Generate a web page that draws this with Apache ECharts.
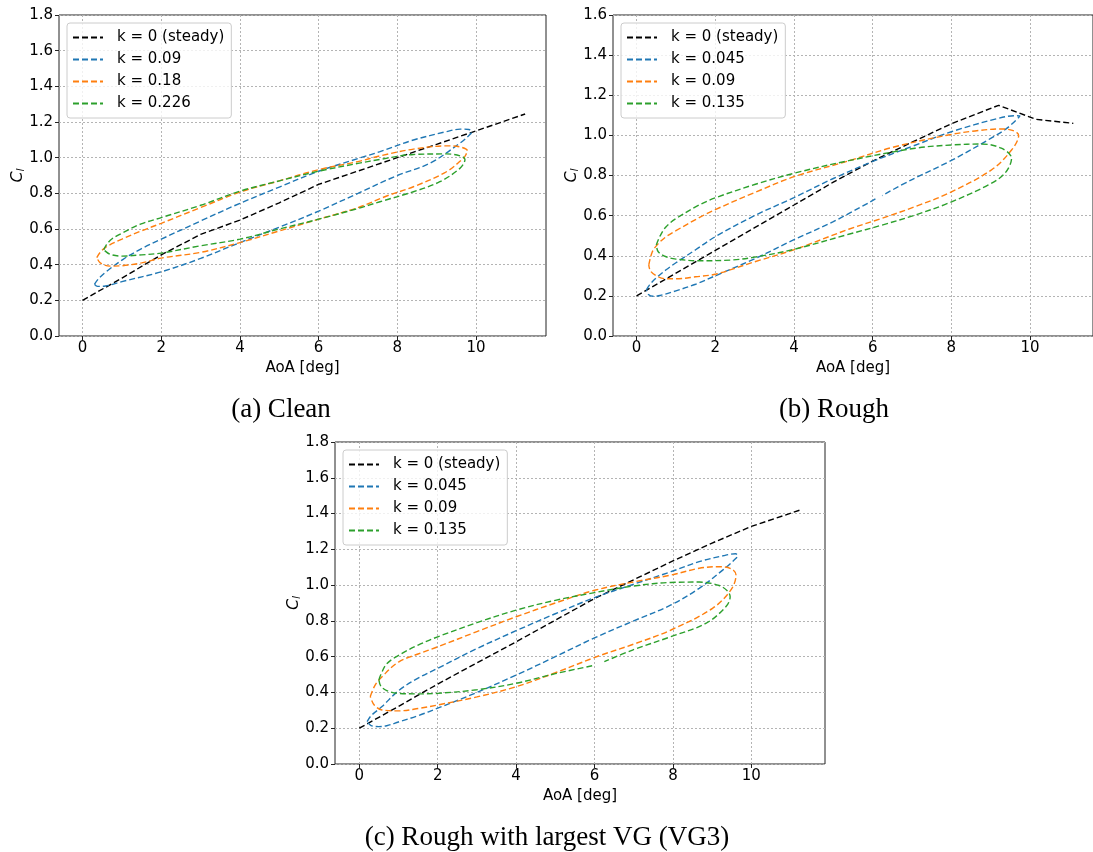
<!DOCTYPE html>
<html>
<head>
<meta charset="utf-8">
<title>Cl hysteresis</title>
<script src="https://cdn.jsdelivr.net/npm/echarts@6.0.0/dist/echarts.min.js"></script>
<style>
html,body{margin:0;padding:0;background:#fff;}
#chart{width:1093px;height:852px;}
</style>
</head>
<body>
<div id="chart"></div>
<script>
// values, points are [AoA (deg), Cl]
var xTicks = [0, 2, 4, 6, 8, 10];
var cleanNames = ['k = 0 (steady)', 'k = 0.09', 'k = 0.18', 'k = 0.226'];
var roughNames = ['k = 0 (steady)', 'k = 0.045', 'k = 0.09', 'k = 0.135'];
var vgNames = ['k = 0 (steady)', 'k = 0.045', 'k = 0.09', 'k = 0.135'];
var captions = ['(a) Clean', '(b) Rough', '(c) Rough with largest VG (VG3)'];

// (a) clean
var cleanSteady = [[0,0.2],[1,0.325],[2,0.455],[3,0.57],[4,0.65],[5,0.747],[6,0.85],[7,0.925],[8,1.0],[9,1.075],[10,1.15],[11.25,1.245]];
var cleanK009 = [[0.3,0.29],[0.4,0.32],[0.58,0.357],[1.03,0.43],[1.5,0.49],[2,0.543],[3,0.645],[4,0.744],[5,0.835],[6,0.924],[7,0.995],[7.56,1.034],[8.41,1.099],[9.25,1.146],[9.6,1.16],[9.82,1.158],[9.89,1.145],[9.8,1.12],[9.59,1.081],[8.83,0.969],[8,0.9],[7,0.8],[6,0.7],[5,0.61],[4,0.524],[3,0.435],[2,0.36],[1,0.305],[0.58,0.28],[0.38,0.278],[0.3,0.29]];
var cleanK018 = [[0.36,0.44],[0.45,0.47],[0.6,0.5],[1,0.543],[1.5,0.59],[2,0.632],[3,0.72],[4,0.807],[5,0.87],[6,0.933],[7,0.978],[7.56,1.01],[8.41,1.048],[9.25,1.066],[9.6,1.06],[9.78,1.039],[9.74,1.015],[9.68,0.997],[9.25,0.921],[8.41,0.837],[7.73,0.785],[7,0.72],[6,0.655],[5,0.589],[4,0.524],[3,0.469],[2,0.437],[1.5,0.41],[1,0.394],[0.7,0.392],[0.45,0.41],[0.36,0.44]];
var cleanK0226 = [[0.54,0.483],[0.6,0.51],[0.75,0.545],[1.03,0.58],[1.47,0.627],[2,0.664],[3,0.733],[4,0.812],[5,0.87],[6,0.924],[7,0.968],[7.56,0.99],[8.41,1.018],[9.25,1.021],[9.6,1.01],[9.72,0.99],[9.59,0.94],[9.08,0.865],[8.41,0.809],[7.56,0.753],[7,0.715],[6,0.655],[5,0.6],[4,0.543],[3,0.506],[2,0.465],[1.5,0.455],[1,0.448],[0.7,0.458],[0.54,0.483]];

// (b) rough
var roughSteady = [[0,0.2],[1,0.313],[2,0.427],[3,0.54],[4,0.653],[5,0.767],[6,0.872],[7,0.966],[8,1.058],[9.2,1.15],[10.15,1.08],[11.1,1.06]];
var roughK0045 = [[0.25,0.23],[0.33,0.255],[0.5,0.29],[0.75,0.33],[1,0.365],[1.5,0.43],[2,0.495],[3,0.6],[4,0.69],[5,0.785],[6,0.87],[7,0.945],[8,1.018],[9.19,1.085],[9.6,1.098],[9.74,1.097],[9.44,1.04],[9,0.985],[8,0.875],[7,0.78],[6.24,0.7],[6.15,'-'],[6.07,0.683],[5,0.57],[4,0.48],[3,0.385],[2,0.3],[1.5,0.258],[1,0.225],[0.6,0.202],[0.42,0.198],[0.3,0.207],[0.25,0.23]];
var roughK009 = [[0.31,0.354],[0.4,0.42],[0.55,0.46],[0.75,0.495],[1,0.525],[1.59,0.59],[2,0.63],[3,0.715],[4,0.794],[5.39,0.873],[6.5,0.94],[7.92,1.002],[8.6,1.022],[9.25,1.032],[9.55,1.025],[9.71,1.0],[9.53,0.927],[9.02,0.828],[7.92,0.711],[7.08,0.645],[6.24,0.587],[5.39,0.532],[4,0.43],[3,0.37],[2.02,0.309],[1.5,0.295],[1,0.285],[0.75,0.285],[0.5,0.3],[0.35,0.325],[0.31,0.354]];
var roughK0135 = [[0.5,0.454],[0.6,0.5],[0.75,0.545],[1,0.585],[1.59,0.653],[2.02,0.69],[3,0.755],[4,0.811],[5.39,0.874],[7.08,0.936],[8,0.952],[8.77,0.957],[9.27,0.936],[9.53,0.886],[9.36,0.811],[8.94,0.753],[7.92,0.662],[7.08,0.603],[6.24,0.553],[5.39,0.507],[4,0.432],[3,0.393],[2.44,0.379],[1.59,0.375],[1,0.383],[0.75,0.395],[0.55,0.42],[0.5,0.454]];

// (c) rough + VG3
var vgSteady = [[0,0.2],[1,0.322],[2,0.447],[3,0.565],[4,0.683],[5,0.804],[6,0.925],[7,1.03],[8,1.135],[9,1.235],[10,1.328],[11.25,1.42]];
var vgK0045 = [[0.2,0.237],[0.3,0.27],[0.58,0.321],[1,0.41],[1.5,0.48],[2,0.535],[3,0.645],[4,0.745],[5,0.84],[6,0.93],[7,1.005],[7.95,1.075],[8.67,1.131],[9.3,1.165],[9.6,1.175],[9.65,1.165],[9.61,1.15],[9.27,1.084],[8.67,0.982],[7.95,0.889],[7,0.8],[6,0.705],[5,0.6],[4,0.497],[3,0.4],[2,0.312],[1.5,0.27],[1,0.235],[0.7,0.214],[0.5,0.209],[0.3,0.215],[0.2,0.237]];
var vgK009 = [[0.28,0.377],[0.4,0.44],[0.58,0.488],[1,0.57],[1.5,0.615],[2,0.655],[3,0.74],[4,0.823],[5,0.9],[6,0.971],[7,1.018],[7.95,1.056],[8.67,1.094],[9.18,1.103],[9.5,1.09],[9.61,1.056],[9.48,0.973],[9.01,0.87],[7.95,0.749],[7,0.67],[6.12,0.605],[5,0.51],[4,0.432],[3,0.375],[2,0.33],[1.5,0.31],[1,0.297],[0.58,0.302],[0.38,0.33],[0.28,0.377]];
var vgK0135 = [[0.5,0.47],[0.55,0.5],[0.7,0.56],[1,0.607],[1.5,0.665],[2,0.711],[3,0.79],[4,0.86],[5,0.915],[6,0.958],[7,0.995],[7.95,1.015],[8.67,1.017],[9.18,0.998],[9.4,0.965],[9.46,0.935],[9.35,0.879],[8.84,0.786],[7.95,0.712],[6.97,0.637],[6.25,0.572],[6.1,'-'],[5.94,0.549],[5,0.505],[4,0.451],[3,0.415],[2,0.395],[1.5,0.392],[1,0.395],[0.7,0.41],[0.55,0.435],[0.5,0.47]];

var colors = ['#000000', '#1f77b4', '#ff7f0e', '#2ca02c'];
var font = 'DejaVu Sans';

// one entry per subplot: where it sits and what it holds
var panels = [
	{key:'a', names:cleanNames, curves:[cleanSteady, cleanK009, cleanK018, cleanK0226],
	 left:59, top:15, width:487, height:321, xMin:-0.6, xMax:11.78, yMax:1.8,
	 caption:captions[0], capX:281, capY:410},
	{key:'b', names:roughNames, curves:[roughSteady, roughK0045, roughK009, roughK0135],
	 left:613, top:15, width:482, height:321, xMin:-0.6, xMax:11.6, yMax:1.6,
	 caption:captions[1], capX:834, capY:410},
	{key:'c', names:vgNames, curves:[vgSteady, vgK0045, vgK009, vgK0135],
	 left:335, top:442, width:490, height:322, xMin:-0.62, xMax:11.88, yMax:1.8,
	 caption:captions[2], capX:547, capY:838}
];

var grids = [], xAxes = [], yAxes = [], legends = [], series = [], texts = [];

panels.forEach(function(p, idx){
	grids.push({
		left:p.left, top:p.top, width:p.width, height:p.height,
		show:true, borderColor:'#222', borderWidth:1, backgroundColor:'transparent'
	});
	xAxes.push({
		type:'value', gridIndex:idx, min:p.xMin, max:p.xMax,
		minInterval:2, maxInterval:2,
		name:'AoA [deg]', nameLocation:'middle', nameGap:25,
		nameTextStyle:{fontFamily:font, fontSize:15, color:'#000'},
		axisLine:{show:false, onZero:false},
		axisTick:{show:true, length:4, customValues:xTicks, lineStyle:{color:'#222', width:1}},
		axisLabel:{fontFamily:font, fontSize:15, color:'#000', margin:5, customValues:xTicks},
		splitLine:{show:true, lineStyle:{color:'#b4b4b4', width:1, type:[2,2]}}
	});
	yAxes.push({
		type:'value', gridIndex:idx, min:0, max:p.yMax, interval:0.2,
		name:'{i|C}{s|l}', nameLocation:'middle', nameRotate:90, nameGap:32,
		nameMoveOverlap:false,
		nameTextStyle:{rich:{
			i:{fontFamily:font, fontStyle:'italic', fontSize:16, color:'#000'},
			s:{fontFamily:font, fontStyle:'italic', fontSize:11, color:'#000', padding:[8,0,0,0]}
		}},
		axisLine:{show:false, onZero:false},
		axisTick:{show:true, length:4, lineStyle:{color:'#222', width:1}},
		axisLabel:{fontFamily:font, fontSize:15, color:'#000', margin:6,
			formatter:function(v){ return v.toFixed(1); }},
		splitLine:{show:true, lineStyle:{color:'#b4b4b4', width:1, type:[2,2]}}
	});
	legends.push({
		data:p.names.map(function(n){ return p.key + '|' + n; }),
		orient:'vertical', left:p.left + 8, top:p.top + 8,
		itemWidth:30, itemHeight:14, itemGap:7,
		padding:[7,7,7,5],
		backgroundColor:'rgba(255,255,255,0.8)',
		borderColor:'#cccccc', borderWidth:1, borderRadius:3,
		selectedMode:false,
		itemStyle:{opacity:0},   // hide the dot, keep the dashed sample
		textStyle:{fontFamily:font, fontSize:15, color:'#000', padding:[0,0,0,9]},
		formatter:function(name){ return name.split('|')[1]; }
	});
	p.curves.forEach(function(d, i){
		series.push({
			name:p.key + '|' + p.names[i],
			type:'line', xAxisIndex:idx, yAxisIndex:idx,
			data:d, symbol:'none',
			smooth:i === 0 ? false : 0.35,
			color:colors[i],
			lineStyle:{color:colors[i], width:1.4, type:[6,3]}
		});
	});
	texts.push({
		type:'text', x:p.capX, y:p.capY,
		style:{text:p.caption, font:'27px "Liberation Serif"', fill:'#000',
			textAlign:'center', textVerticalAlign:'middle'}
	});
});

var myChart = echarts.init(document.getElementById('chart'));
var option = {
	animation:false,
	backgroundColor:'#fff',
	grid:grids,
	xAxis:xAxes,
	yAxis:yAxes,
	legend:legends,
	series:series,
	graphic:texts
};
myChart.setOption(option);
</script>
</body>
</html>
